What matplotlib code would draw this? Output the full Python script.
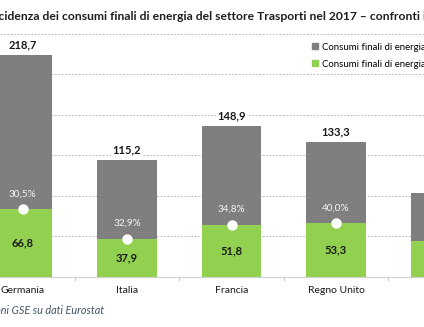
# load libraries
import matplotlib.pyplot as plt
from matplotlib.patches import Patch

# data (Mtep)
paesi = ['Germania', 'Italia', 'Francia', 'Regno Unito', 'Spagna']
totale = [218.7, 115.2, 148.9, 133.3, 83.3]
fer = [66.8, 37.9, 51.8, 53.3, 35.5]
quota = [30.5, 32.9, 34.8, 40.0, 42.6]

grigio = '#7f7f7f'
verde = '#92d050'

plt.rcParams['font.family'] = ['Lato', 'DejaVu Sans']

fig = plt.figure(figsize=(4.24, 3.27), dpi=100)
ax = fig.add_axes([0, 50 / 327, 1, 243.1 / 327])

x = list(range(len(paesi)))
w = 0.574

# bars
ax.bar(x, totale, w, color=grigio, zorder=2)
ax.bar(x, fer, w, color=verde, zorder=3)

# white dots at top of the green part
ax.plot(x, fer, 'o', color='white', markersize=6.5, zorder=4, clip_on=True)

# labels
def fmt(v):
  return ('%.1f' % v).replace('.', ',')

for i in x:
  ax.annotate(fmt(totale[i]), (i, totale[i]), xytext=(0, 7.5), textcoords='offset points',
              ha='center', va='center', fontsize=8, fontweight='bold', color='#1a1a1a',
              bbox=dict(boxstyle='square,pad=0.15', fc='white', ec='none'), zorder=5)
  ax.text(i, fer[i] / 2, fmt(fer[i]), ha='center', va='center', fontsize=8,
          fontweight='bold', color='#1a1a1a', zorder=5)
  ax.annotate(fmt(quota[i]) + '%', (i, fer[i]), xytext=(0, 11), textcoords='offset points',
              ha='center', va='center', fontsize=7.2, color='#f5f5f5', zorder=5)

# axes
ax.set_xlim(-22.5 / 104.5, (424 - 22.5) / 104.5)
ax.set_ylim(0, 240)
ax.set_yticks([40, 80, 120, 160, 200, 240])
ax.yaxis.grid(True, linestyle=(0, (2, 1.5)), color='#bfbfbf', linewidth=0.7, zorder=0)
ax.tick_params(axis='y', left=False, labelleft=False)
for s in ['top', 'left', 'right']:
  ax.spines[s].set_visible(False)
ax.spines['bottom'].set_color('#d0d0d0')
ax.spines['bottom'].set_linewidth(0.8)

ax.set_xticks([i + 0.5 for i in x[:-1]], minor=False)
ax.set_xticklabels([])
ax.tick_params(axis='x', length=3, color='#c8c8c8', width=0.8)
for i in x:
  ax.text(i, -13, paesi[i], ha='center', va='center', fontsize=7.5, color='#1a1a1a')

# legend
handles = [Patch(color=grigio, label='Consumi finali di energia (Mtep)'),
           Patch(color=verde, label='Consumi finali di energia - FER (Mtep)')]
fig.legend(handles=handles, loc='upper left', bbox_to_anchor=(312 / 424, 1 - 42 / 327),
           frameon=False, fontsize=6.9, handlelength=0.6, handleheight=0.6,
           handletextpad=0.45, labelspacing=0.8, borderaxespad=0, borderpad=0)

# title and source
fig.text(-12 / 424, 1 - 17 / 327,
         'Incidenza dei consumi finali di energia del settore Trasporti nel 2017 \u2013 confronti internazionali',
         ha='left', va='center', fontsize=8.75, fontweight='bold', color='#1f1f1f')
fig.text(-78 / 424, 1 - 311 / 327, 'Fonte: Elaborazioni GSE su dati Eurostat',
         ha='left', va='center', fontsize=7.8, style='italic', color='#44546a')

fig.savefig('out.png', dpi=100)
